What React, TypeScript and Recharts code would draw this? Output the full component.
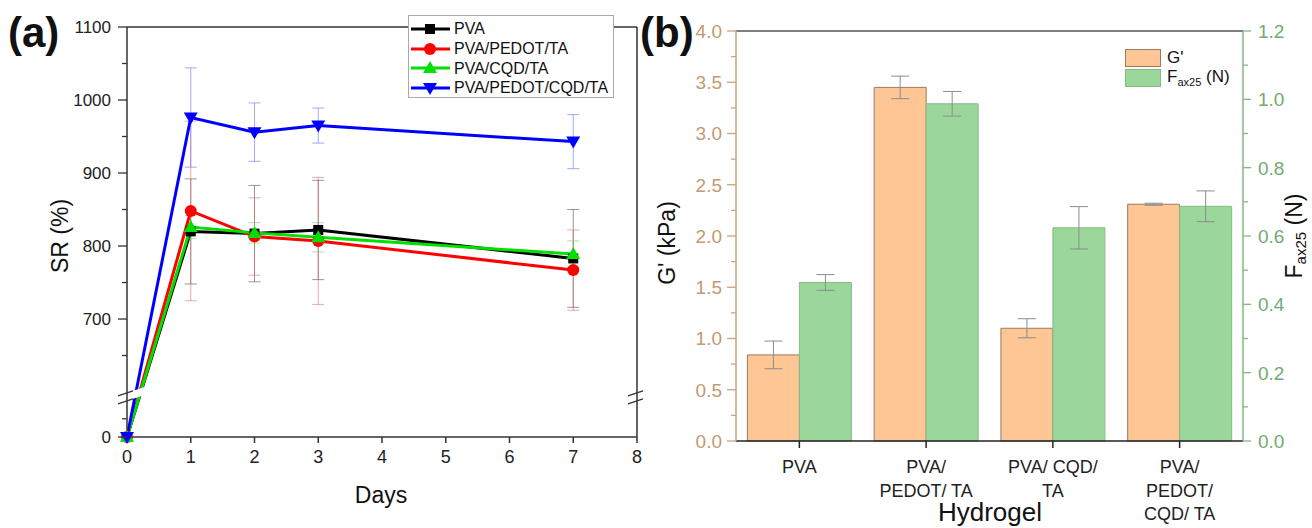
import React from 'react';
import {
  LineChart,
  Line,
  BarChart,
  Bar,
  XAxis,
  YAxis,
  ErrorBar,
  ReferenceLine,
  Legend,
} from 'recharts';

const FONT = '"Liberation Sans", Arial, Helvetica, sans-serif';

// ---- (a) swelling ratio over days ----
const days = [0, 1, 2, 3, 7];
const srPva = [0, 820, 817, 822, 783];
const srPvaErr = [0, 72, 66, 68, 67];
const srPvaPedotTa = [0, 848, 813, 807, 767];
const srPvaPedotTaErr = [0, 123, 53, 87, 55];
const srPvaCqdTa = [0, 826, 818, 812, 789];
const srPvaCqdTaErr = [0, 16, 14, 20, 18];
const srPvaPedotCqdTa = [0, 976, 956, 965, 943];
const srPvaPedotCqdTaErr = [0, 68, 40, 24, 37];

const dayTicks = [0, 1, 2, 3, 4, 5, 6, 7, 8];
const srMajorTicks = [0, 700, 800, 900, 1000, 1100];
const srMinorTicks = [25, 650, 750, 850, 950, 1050];

// broken y axis: everything from 600 up is slid down to sit just over the 0 stub
const BREAK_FROM = 600;
const BREAK_SHIFT = 538.4;
const BREAK_AT = 55;
const SR_TOP = 1100 - BREAK_SHIFT;
const toAxis = (v: number) => (v >= BREAK_FROM ? v - BREAK_SHIFT : v);
const fromAxis = (v: number) => (v > BREAK_AT ? v + BREAK_SHIFT : v);

const srSeries = [
  { key: 'pva', name: 'PVA', color: '#000000', err: '#444444', marker: 'square', values: srPva, errors: srPvaErr },
  { key: 'pedot', name: 'PVA/PEDOT/TA', color: '#ff0000', err: '#e06060', marker: 'circle', values: srPvaPedotTa, errors: srPvaPedotTaErr },
  { key: 'cqd', name: 'PVA/CQD/TA', color: '#00e000', err: '#60d060', marker: 'up', values: srPvaCqdTa, errors: srPvaCqdTaErr },
  { key: 'both', name: 'PVA/PEDOT/CQD/TA', color: '#0000ff', err: '#6060ff', marker: 'down', values: srPvaPedotCqdTa, errors: srPvaPedotCqdTaErr },
];

const srData = days.map((d, i) => {
  const row: any = { day: d };
  srSeries.forEach((s) => {
    row[s.key] = toAxis(s.values[i]);
    row[s.key + 'Err'] = s.errors[i];
  });
  return row;
});

// ---- (b) G' and F_ax25 per hydrogel ----
const hydrogels = ['PVA', 'PVA/\nPEDOT/ TA', 'PVA/ CQD/\nTA', 'PVA/\nPEDOT/\nCQD/ TA'];
const gPrime = [0.84, 3.45, 1.1, 2.31];
const gPrimeErr = [0.135, 0.11, 0.093, 0.01];
const fax25 = [0.464, 0.987, 0.624, 0.687];
const fax25Err = [0.023, 0.036, 0.062, 0.045];

const gMajorTicks = [0, 0.5, 1, 1.5, 2, 2.5, 3, 3.5, 4];
const gMinorTicks = [0.25, 0.75, 1.25, 1.75, 2.25, 2.75, 3.25, 3.75];
const fMajorTicks = [0, 0.2, 0.4, 0.6, 0.8, 1, 1.2];
const fMinorTicks = [0.1, 0.3, 0.5, 0.7, 0.9, 1.1];

const barData = hydrogels.map((name, i) => ({
  name,
  g: gPrime[i],
  gErr: gPrimeErr[i],
  f: fax25[i],
  fErr: fax25Err[i],
}));

const TAN = '#c9a27e';
const TAN_TEXT = '#c39a72';
const GREEN_AXIS = '#82b882';
const GREEN_TEXT = '#72aa72';
const ORANGE = '#fdc694';
const ORANGE_EDGE = '#9a7b60';
const GREEN = '#9bd69a';
const GREEN_EDGE = '#86bb86';

const Marker = ({ type, cx, cy, color }: any) => {
  if (cx == null || cy == null) return null;
  if (type === 'square') return <rect x={cx - 5} y={cy - 5} width={10} height={10} fill={color} />;
  if (type === 'circle') return <circle cx={cx} cy={cy} r={6} fill={color} />;
  if (type === 'up')
    return <polygon points={`${cx},${cy - 7} ${cx - 7},${cy + 5} ${cx + 7},${cy + 5}`} fill={color} />;
  return <polygon points={`${cx - 7},${cy - 5} ${cx + 7},${cy - 5} ${cx},${cy + 7}`} fill={color} />;
};

const SrTick = (props: any) => {
  const { x, y, payload } = props;
  const real = Math.round(fromAxis(payload.value));
  const major = srMajorTicks.includes(real);
  return (
    <g>
      <line x1={x - (major ? 9 : 5)} x2={x} y1={y} y2={y} stroke="#333" strokeWidth={1.3} />
      {major && (
        <text x={x - 16} y={y} dy="0.36em" textAnchor="end" fontSize={17} fill="#222" fontFamily={FONT}>
          {real}
        </text>
      )}
    </g>
  );
};

const BreakMarks = (props: any) => {
  const { x1, x2, y1 } = props;
  const cy = y1;
  const mark = (x: number, reach: number) => {
    const k = 1 / 3;
    const dy = (reach + 9) * k;
    return (
      <g>
        <polygon
          points={`${x - 9},${cy - 1} ${x + reach},${cy - 1 - dy} ${x + reach},${cy + 7 - dy} ${x - 9},${cy + 7}`}
          fill="#fff"
        />
        <line x1={x - 9} y1={cy - 1} x2={x + 6} y2={cy - 6} stroke="#333" strokeWidth={1.3} />
        <line x1={x - 9} y1={cy + 7} x2={x + 6} y2={cy + 2} stroke="#333" strokeWidth={1.3} />
      </g>
    );
  };
  return (
    <g>
      {mark(x1, 20)}
      {mark(x2, 8)}
    </g>
  );
};

const SrLegend = () => (
  <div
    style={{
      width: 206,
      height: 83,
      boxSizing: 'border-box',
      border: '1px solid #aaa',
      background: '#fff',
      paddingTop: 3,
      fontFamily: FONT,
      fontSize: 16,
      color: '#111',
    }}
  >
    {srSeries.map((s) => (
      <div key={s.key} style={{ height: 19.7, display: 'flex', alignItems: 'center' }}>
        <svg width={42} height={20} style={{ marginLeft: 1, marginRight: 2 }}>
          <line x1={1} x2={40} y1={10} y2={10} stroke={s.color} strokeWidth={3} />
          <Marker type={s.marker} cx={20} cy={10} color={s.color} />
        </svg>
        <span style={{ lineHeight: '19px' }}>{s.name}</span>
      </div>
    ))}
  </div>
);

const SwellingChart = () => (
  <LineChart width={660} height={528} data={srData} margin={{ top: 26, right: 13, bottom: 51, left: 57 }}>
    <XAxis
      dataKey="day"
      type="number"
      domain={[0, 8]}
      ticks={dayTicks}
      interval={0}
      tickSize={6}
      tickMargin={7}
      stroke="#333"
      strokeWidth={1.5}
      height={40}
      tick={{ fontSize: 18, fill: '#222', fontFamily: FONT }}
    />
    <XAxis xAxisId="top" orientation="top" type="number" domain={[0, 8]} tick={false} tickLine={false} height={1} stroke="#333" strokeWidth={1.5} />
    <YAxis
      yAxisId="sr"
      type="number"
      domain={[0, SR_TOP]}
      ticks={[...srMajorTicks, ...srMinorTicks].map(toAxis)}
      interval={0}
      tickSize={0}
      tickMargin={0}
      tickLine={false}
      tick={<SrTick />}
      width={70}
      stroke="#333"
      strokeWidth={1.5}
    />
    <YAxis yAxisId="right" orientation="right" type="number" domain={[0, SR_TOP]} tick={false} tickLine={false} width={10} stroke="#333" strokeWidth={1.5} />
    {srSeries.map((s) => (
      <Line
        key={s.key}
        yAxisId="sr"
        type="linear"
        dataKey={s.key}
        stroke={s.color}
        strokeWidth={3}
        isAnimationActive={false}
        dot={(p: any) => <Marker key={`${s.key}-${p.index}`} type={s.marker} cx={p.cx} cy={p.cy} color={s.color} />}
        activeDot={false}
      >
        <ErrorBar dataKey={s.key + 'Err'} direction="y" width={6} stroke={s.err} strokeWidth={1} strokeOpacity={0.55} />
      </Line>
    ))}
    <ReferenceLine yAxisId="sr" y={BREAK_AT} ifOverflow="visible" stroke="none" shape={(p: any) => <BreakMarks {...p} />} />
    <Legend
      layout="horizontal"
      verticalAlign="middle"
      align="center"
      wrapperStyle={{ left: 408, top: 15, width: 206, height: 83 }}
      content={() => <SrLegend />}
    />
  </LineChart>
);

const GTick = (props: any) => {
  const { x, y, payload } = props;
  const v = payload.value;
  const major = gMajorTicks.some((t) => Math.abs(t - v) < 1e-6);
  return (
    <g>
      <line x1={x - (major ? 9 : 5)} x2={x} y1={y} y2={y} stroke={TAN} strokeWidth={1.3} />
      {major && (
        <text x={x - 14} y={y} dy="0.36em" textAnchor="end" fontSize={19} fill={TAN_TEXT} fontFamily={FONT}>
          {v.toFixed(1)}
        </text>
      )}
    </g>
  );
};

const FTick = (props: any) => {
  const { x, y, payload } = props;
  const v = payload.value;
  const major = fMajorTicks.some((t) => Math.abs(t - v) < 1e-6);
  return (
    <g>
      <line x1={x} x2={x + (major ? 8 : 5)} y1={y} y2={y} stroke={GREEN_AXIS} strokeWidth={1.3} />
      {major && (
        <text x={x + 15} y={y} dy="0.36em" textAnchor="start" fontSize={19} fill={GREEN_TEXT} fontFamily={FONT}>
          {v.toFixed(1)}
        </text>
      )}
    </g>
  );
};

const HydrogelTick = (props: any) => {
  const { x, y, payload } = props;
  const lines = String(payload.value).split('\n');
  return (
    <text x={x} y={y} textAnchor="middle" fontSize={18} fill="#222" fontFamily={FONT}>
      {lines.map((l, i) => (
        <tspan key={i} x={x} dy={i === 0 ? 23 : 23.5}>
          {l}
        </tspan>
      ))}
    </text>
  );
};

const BarLegend = () => (
  <div style={{ fontFamily: FONT, fontSize: 17, color: '#111', width: 110 }}>
    <div style={{ display: 'flex', alignItems: 'center', height: 20 }}>
      <div style={{ width: 36, height: 18, boxSizing: 'border-box', background: ORANGE, border: `1px solid ${ORANGE_EDGE}`, marginRight: 6 }} />
      <span>G'</span>
    </div>
    <div style={{ display: 'flex', alignItems: 'center', height: 20 }}>
      <div style={{ width: 36, height: 18, boxSizing: 'border-box', background: GREEN, border: `1px solid ${GREEN_EDGE}`, marginRight: 6 }} />
      <span>
        F<sub style={{ fontSize: 11 }}>ax25</sub> (N)
      </span>
    </div>
  </div>
);

const ModulusChart = () => (
  <BarChart
    width={672}
    height={528}
    data={barData}
    margin={{ top: 30, right: 9, bottom: 7, left: 36 }}
    barCategoryGap="9%"
    barGap={0}
  >
    <XAxis
      dataKey="name"
      interval={0}
      tickSize={7}
      tickMargin={2}
      stroke="#222"
      strokeWidth={1.5}
      height={80}
      tick={<HydrogelTick />}
    />
    <XAxis xAxisId="top" dataKey="name" orientation="top" tick={false} tickLine={false} height={1} stroke="#555" strokeWidth={1.5} />
    <YAxis
      yAxisId="g"
      type="number"
      domain={[0, 4]}
      ticks={[...gMajorTicks, ...gMinorTicks]}
      interval={0}
      tickSize={0}
      tickMargin={0}
      tickLine={false}
      tick={<GTick />}
      width={60}
      stroke={TAN}
      strokeWidth={1.5}
    />
    <YAxis
      yAxisId="f"
      orientation="right"
      type="number"
      domain={[0, 1.2]}
      ticks={[...fMajorTicks, ...fMinorTicks]}
      interval={0}
      tickSize={0}
      tickMargin={0}
      tickLine={false}
      tick={<FTick />}
      width={60}
      stroke={GREEN_AXIS}
      strokeWidth={1.5}
    />
    <Bar yAxisId="g" dataKey="g" fill={ORANGE} stroke={ORANGE_EDGE} strokeWidth={1} isAnimationActive={false}>
      <ErrorBar dataKey="gErr" direction="y" width={9} stroke="#8c8c8c" strokeWidth={1} />
    </Bar>
    <Bar yAxisId="f" dataKey="f" fill={GREEN} stroke={GREEN_EDGE} strokeWidth={1} isAnimationActive={false}>
      <ErrorBar dataKey="fErr" direction="y" width={9} stroke="#8c8c8c" strokeWidth={1} />
    </Bar>
    <Legend
      layout="horizontal"
      verticalAlign="middle"
      align="center"
      wrapperStyle={{ left: 485, top: 48, width: 110, height: 40 }}
      content={() => <BarLegend />}
    />
  </BarChart>
);

export default function App() {
  return (
    <div style={{ position: 'absolute', left: 0, top: 0, width: 1312, height: 528, background: '#fff', overflow: 'hidden' }}>
      <div style={{ position: 'absolute', left: 0, top: 0 }}>
        <SwellingChart />
      </div>
      <div style={{ position: 'absolute', left: 640, top: 0 }}>
        <ModulusChart />
      </div>
      <svg width={1312} height={528} style={{ position: 'absolute', left: 0, top: 0, pointerEvents: 'none' }} fontFamily={FONT}>
        <text x={8} y={47} fontSize={42} fontWeight="bold" fill="#111">(a)</text>
        <text x={640} y={47} fontSize={42} fontWeight="bold" fill="#111">(b)</text>
        <text x={60} y={236} dy="0.35em" fontSize={23} fill="#111" textAnchor="middle" transform="rotate(-90 60 236)">
          SR (%)
        </text>
        <text x={381} y={503} fontSize={23} fill="#111" textAnchor="middle">Days</text>
        <text x={667} y={243} dy="0.35em" fontSize={23} fill="#111" textAnchor="middle" transform="rotate(-90 667 243)">
          G' (kPa)
        </text>
        <text x={1294} y={236} dy="0.35em" fontSize={23} fill="#111" textAnchor="middle" transform="rotate(-90 1294 236)">
          F<tspan fontSize={15} dy={4}>ax25</tspan>
          <tspan dy={-4}> (N)</tspan>
        </text>
        <text x={990} y={521} fontSize={26} fill="#111" textAnchor="middle">Hydrogel</text>
      </svg>
    </div>
  );
}
